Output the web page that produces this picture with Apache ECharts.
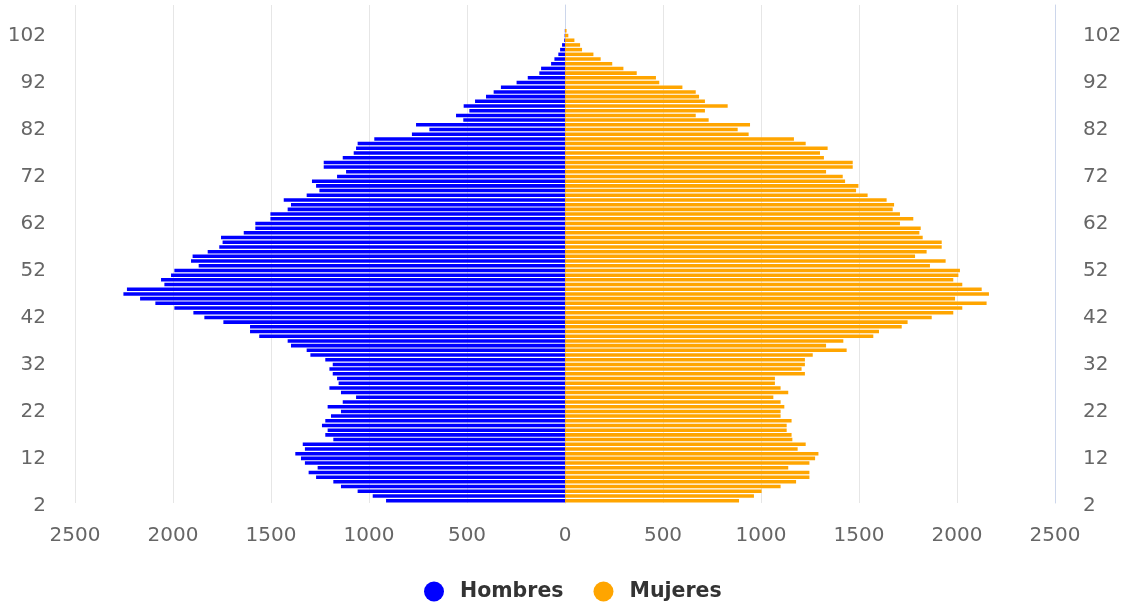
<!DOCTYPE html>
<html>
<head>
<meta charset="utf-8">
<script src="https://cdn.jsdelivr.net/npm/echarts@6/dist/echarts.min.js"></script>
<style>
html,body{margin:0;padding:0;background:#fff;}
#chart{width:1126px;height:605px;}
</style>
</head>
<body>
<div id="chart"></div>
<script>
// Ages 2..107 (categories), values for ages 2..102
const ages = [];
for (let a = 2; a <= 107; a++) ages.push(String(a));

const hombres = [
  913, 981, 1058, 1143, 1182, 1270, 1308, 1262, 1327, 1347,
  1376, 1327, 1338, 1182, 1223, 1211, 1240, 1223, 1194, 1143,
  1211, 1134, 1066, 1143, 1202, 1155, 1163, 1185, 1202, 1185,
  1223, 1299, 1318, 1398, 1415, 1560, 1607, 1607, 1743, 1840,
  1896, 1993, 2090, 2168, 2253, 2235, 2044, 2061, 2010, 1993,
  1869, 1908, 1900, 1823, 1764, 1747, 1755, 1639, 1580, 1580,
  1503, 1503, 1415, 1398, 1435, 1318, 1253, 1270, 1291, 1163,
  1117, 1231, 1231, 1134, 1078, 1066, 1058, 973, 781, 692,
  760, 519, 556, 488, 517, 459, 403, 364, 327, 247,
  190, 131, 122, 71, 54, 34, 25, 15, 4, 2,
  1
];

const mujeres = [
  888, 964, 1003, 1100, 1179, 1247, 1247, 1139, 1247, 1276,
  1293, 1187, 1228, 1160, 1156, 1131, 1131, 1156, 1100, 1100,
  1119, 1100, 1063, 1139, 1100, 1071, 1071, 1224, 1207, 1224,
  1224, 1264, 1437, 1332, 1420, 1573, 1602, 1718, 1748, 1871,
  1981, 2027, 2151, 1990, 2163, 2126, 2027, 1981, 2007, 2015,
  1862, 1942, 1786, 1845, 1922, 1922, 1825, 1808, 1815, 1709,
  1777, 1709, 1672, 1679, 1641, 1544, 1485, 1497, 1429, 1417,
  1332, 1468, 1468, 1321, 1301, 1340, 1228, 1168, 937, 881,
  944, 733, 667, 714, 830, 714, 684, 667, 599, 481,
  464, 366, 298, 241, 182, 145, 87, 77, 48, 17,
  8
];

const xTicks = { min: -2500, max: 2500, interval: 500 };

const chart = echarts.init(document.getElementById('chart'), null, { renderer: 'canvas' });

const yLabel = {
  interval: 9,
  color: '#666666',
  fontFamily: 'DejaVu Sans',
  fontSize: 20,
  formatter: v => '{a|' + v + '}',
  rich: {
    a: {
      color: '#666666',
      fontFamily: 'DejaVu Sans',
      fontSize: 20,
      padding: [10, 0, 0, 0]
    }
  }
};

chart.setOption({
  animation: false,
  backgroundColor: '#ffffff',
  grid: { left: 75, right: 71, top: 5, bottom: 102 },
  legend: {
    top: 581,
    left: 424,
    padding: 0,
    icon: 'circle',
    itemWidth: 42,
    itemHeight: 20,
    itemGap: 30,
    textStyle: { color: '#333333', fontFamily: 'DejaVu Sans', fontSize: 20.5, fontWeight: 'bold' },
    data: ['Hombres', 'Mujeres']
  },
  xAxis: {
    type: 'value',
    min: xTicks.min,
    max: xTicks.max,
    interval: xTicks.interval,
    axisLine: { show: false },
    axisTick: { show: false },
    splitLine: { show: true, lineStyle: { color: '#e6e6e6', width: 1 } },
    axisLabel: {
      color: '#666666',
      fontFamily: 'DejaVu Sans',
      fontSize: 20,
      margin: 23,
      formatter: v => String(Math.abs(v))
    }
  },
  yAxis: [
    {
      type: 'category',
      data: ages,
      position: 'left',
      axisLine: { show: true, lineStyle: { color: '#ccd6eb' } },
      axisTick: { show: false },
      axisLabel: Object.assign({ margin: 29 }, yLabel)
    },
    {
      type: 'category',
      data: ages,
      position: 'right',
      axisLine: { show: true, lineStyle: { color: '#ccd6eb' } },
      axisTick: { show: false },
      axisLabel: Object.assign({ margin: 28 }, yLabel)
    }
  ],
  series: [
    {
      name: 'Hombres',
      type: 'bar',
      stack: 'pop',
      yAxisIndex: 0,
      barCategoryGap: '25%',
      itemStyle: { color: '#0000ff' },
      data: hombres.map(v => -v)
    },
    {
      name: 'Mujeres',
      type: 'bar',
      stack: 'pop',
      yAxisIndex: 0,
      barCategoryGap: '25%',
      itemStyle: { color: '#ffa500' },
      data: mujeres
    }
  ]
});
</script>
</body>
</html>
